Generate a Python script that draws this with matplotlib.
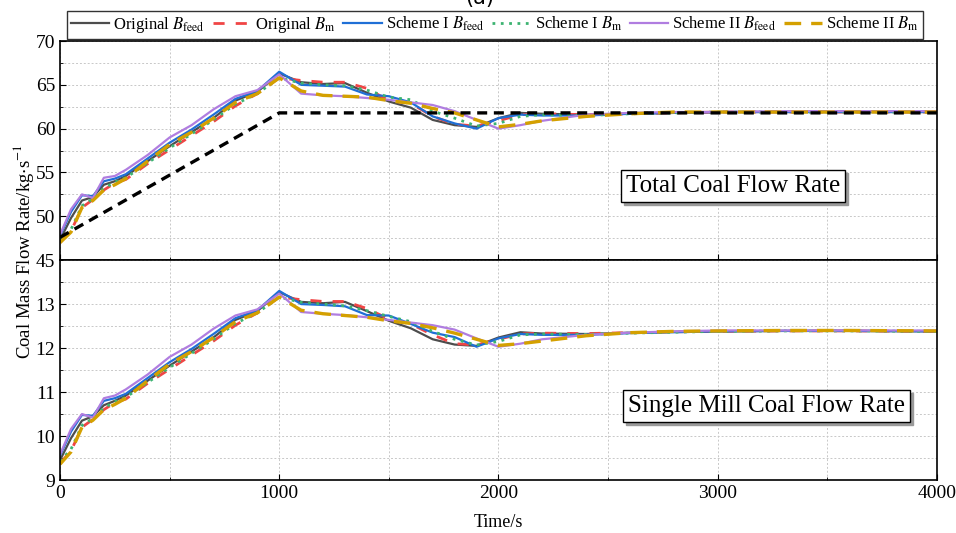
import numpy as np
import matplotlib
matplotlib.use('Agg')
import matplotlib.pyplot as plt
import matplotlib.transforms as mtransforms
from matplotlib.ticker import MultipleLocator

plt.rcParams['font.family'] = ['Liberation Serif', 'DejaVu Serif']
plt.rcParams['mathtext.fontset'] = 'stix'

# time grid (s)
t = [0, 50, 100, 150, 200, 250, 300, 400, 500, 600, 700, 800, 900, 1000,
     1100, 1200, 1300, 1400, 1500, 1600, 1700, 1800, 1900, 2000, 2100, 2200,
     2400, 2600, 2800, 3000, 3300, 3600, 4000]

# total coal flow rate (kg/s)
total_orig_feed = [47.3, 49.8, 51.8, 52.2, 53.6, 54.0, 54.6, 56.3, 58.0, 59.6, 61.2, 63.2, 64.2, 66.3,
                   65.3, 65.1, 65.2, 64.1, 63.1, 62.4, 61.0, 60.4, 60.2, 61.2, 61.8, 61.7,
                   61.6, 61.7, 61.8, 61.9, 61.9, 61.9, 61.9]
total_orig_m = [47.0, 48.3, 51.0, 51.9, 53.0, 53.8, 54.2, 56.0, 57.6, 59.2, 60.8, 62.6, 64.0, 65.8,
                65.5, 65.3, 65.3, 64.6, 63.2, 62.9, 61.4, 60.5, 60.3, 60.9, 61.6, 61.7,
                61.6, 61.7, 61.8, 61.9, 61.9, 61.9, 61.9]
total_s1_feed = [47.8, 50.5, 52.4, 52.3, 54.0, 54.3, 54.8, 56.6, 58.4, 59.9, 61.6, 63.4, 64.3, 66.5,
                 65.0, 64.9, 64.8, 63.9, 63.7, 63.0, 61.4, 60.6, 60.0, 61.2, 61.6, 61.5,
                 61.5, 61.7, 61.8, 61.9, 61.9, 61.9, 61.9]
total_s1_m = [47.2, 48.5, 51.2, 52.0, 53.2, 53.9, 54.4, 56.1, 57.8, 59.4, 61.0, 62.8, 64.0, 65.8,
              65.2, 65.0, 64.9, 64.4, 63.6, 63.3, 62.0, 61.2, 60.3, 60.6, 61.4, 61.6,
              61.5, 61.7, 61.8, 61.9, 61.9, 61.9, 61.9]
total_s2_feed = [47.9, 50.8, 52.5, 52.1, 54.4, 54.6, 55.3, 57.0, 59.0, 60.4, 62.2, 63.7, 64.4, 66.2,
                 64.0, 63.8, 63.7, 63.5, 63.3, 63.0, 62.7, 62.0, 61.0, 60.0, 60.4, 60.9,
                 61.6, 61.8, 61.9, 61.9, 62.0, 62.0, 62.0]
total_s2_m = [47.0, 48.2, 51.0, 51.8, 53.0, 53.6, 54.3, 56.3, 58.2, 59.6, 61.2, 63.0, 64.0, 65.8,
              64.3, 63.8, 63.7, 63.6, 63.2, 62.9, 62.3, 61.8, 61.0, 60.2, 60.5, 60.9,
              61.4, 61.7, 61.9, 61.9, 61.9, 61.9, 61.9]
ref_t = [0, 1000, 4000]
ref_total = [47.6, 61.8, 61.8]

# single mill coal flow rate (kg/s)
mill_orig_feed = [9.45, 9.95, 10.35, 10.45, 10.7, 10.8, 10.92, 11.26, 11.6, 11.92, 12.24, 12.64, 12.84, 13.27,
                  13.05, 13.02, 13.05, 12.84, 12.62, 12.45, 12.2, 12.08, 12.05, 12.24, 12.36, 12.33,
                  12.32, 12.35, 12.37, 12.38, 12.39, 12.39, 12.38]
mill_orig_m = [9.38, 9.66, 10.2, 10.38, 10.6, 10.76, 10.84, 11.2, 11.52, 11.84, 12.16, 12.52, 12.8, 13.16,
               13.1, 13.06, 13.06, 12.9, 12.66, 12.55, 12.3, 12.1, 12.07, 12.2, 12.32, 12.34,
               12.33, 12.35, 12.37, 12.38, 12.39, 12.39, 12.38]
mill_s1_feed = [9.56, 10.1, 10.48, 10.46, 10.8, 10.86, 10.96, 11.32, 11.68, 11.98, 12.32, 12.68, 12.86, 13.3,
                13.0, 12.98, 12.95, 12.75, 12.74, 12.55, 12.35, 12.25, 12.03, 12.22, 12.32, 12.3,
                12.3, 12.34, 12.36, 12.38, 12.39, 12.39, 12.38]
mill_s1_m = [9.42, 9.7, 10.24, 10.4, 10.64, 10.78, 10.88, 11.22, 11.56, 11.88, 12.2, 12.56, 12.8, 13.16,
             13.04, 13.0, 12.96, 12.85, 12.72, 12.6, 12.38, 12.2, 12.07, 12.15, 12.3, 12.32,
             12.31, 12.34, 12.36, 12.38, 12.39, 12.39, 12.38]
mill_s2_feed = [9.58, 10.16, 10.5, 10.42, 10.86, 10.92, 11.06, 11.4, 11.8, 12.08, 12.44, 12.74, 12.88, 13.24,
                12.82, 12.78, 12.75, 12.7, 12.64, 12.58, 12.52, 12.42, 12.22, 12.03, 12.1, 12.2,
                12.3, 12.35, 12.38, 12.4, 12.4, 12.4, 12.4]
mill_s2_m = [9.36, 9.64, 10.2, 10.36, 10.6, 10.72, 10.86, 11.26, 11.64, 11.92, 12.24, 12.6, 12.8, 13.16,
             12.86, 12.78, 12.74, 12.7, 12.62, 12.56, 12.46, 12.34, 12.2, 12.06, 12.1, 12.16,
             12.28, 12.35, 12.38, 12.39, 12.4, 12.4, 12.39]

labels = [r'Original $B_{\rm feed}$', r'Original $B_{\rm m}$', r'Scheme I $B_{\rm feed}$',
          r'Scheme I $B_{\rm m}$', r'Scheme II $B_{\rm feed}$', r'Scheme II $B_{\rm m}$']
colors = ['#4d4d4d', '#f04545', '#1f6fd6', '#3cb371', '#b07de0', '#d4a000']
styles = ['-', (0, (4, 4)), '-', (0, (1, 2)), '-', (0, (5, 3))]
widths = [1.6, 2.0, 1.6, 2.0, 1.6, 2.4]

fig = plt.figure(figsize=(9.56, 5.33), dpi=100)
ax1 = fig.add_axes([0.0628, 0.512, 0.9172, 0.411])
ax2 = fig.add_axes([0.0628, 0.0994, 0.9172, 0.4126], sharex=ax1)

top_series = [total_orig_feed, total_orig_m, total_s1_feed, total_s1_m, total_s2_feed, total_s2_m]
bot_series = [mill_orig_feed, mill_orig_m, mill_s1_feed, mill_s1_m, mill_s2_feed, mill_s2_m]

handles = []
for i in range(6):
    h, = ax1.plot(t, top_series[i], color=colors[i], linestyle=styles[i], linewidth=widths[i], label=labels[i])
    ax2.plot(t, bot_series[i], color=colors[i], linestyle=styles[i], linewidth=widths[i])
    handles.append(h)
ax1.plot(ref_t, ref_total, color='black', linestyle=(0, (3, 2)), linewidth=2.4, zorder=5)

ax1.set_ylim(45, 70)
ax2.set_ylim(9, 14)
ax1.set_xlim(0, 4000)
ax1.yaxis.set_minor_locator(MultipleLocator(2.5))
ax2.yaxis.set_minor_locator(MultipleLocator(0.5))
ax2.xaxis.set_major_locator(MultipleLocator(1000))
ax2.xaxis.set_minor_locator(MultipleLocator(500))
ax2.set_yticks([9, 10, 11, 12, 13])
ax1.set_yticks([45, 50, 55, 60, 65, 70])

for ax in (ax1, ax2):
    ax.grid(True, which='both', color='#c8c8c8', linestyle=(0, (2, 2)), linewidth=0.7)
    ax.tick_params(direction='in', which='both', labelsize=14)
    ax.tick_params(which='major', length=4)
    ax.tick_params(which='minor', length=2)
    for s in ax.spines.values():
        s.set_linewidth(1.2)
ax1.tick_params(axis='x', labelbottom=False)

ax2.set_xlabel('Time/s', fontsize=13, labelpad=9)
fig.text(0.025, 0.529, r'Coal Mass Flow Rate/kg$\cdot$s$^{-1}$', rotation=90,
         ha='center', va='center', fontsize=13.5)

# annotation boxes with shadow
def shadow_box(ax, x, y, s):
    off = mtransforms.ScaledTranslation(3 / 100, -3 / 100, fig.dpi_scale_trans)
    ax.text(x, y, s, fontsize=18, ha='center', va='center', color='none',
            transform=ax.transData + off,
            bbox=dict(boxstyle='square,pad=0.2', fc='#9a9a9a', ec='#9a9a9a'))
    ax.text(x, y, s, fontsize=18, ha='center', va='center',
            bbox=dict(boxstyle='square,pad=0.2', fc='white', ec='black', lw=1))

shadow_box(ax1, 3070, 53.4, 'Total Coal Flow Rate')
shadow_box(ax2, 3225, 10.69, 'Single Mill Coal Flow Rate')

leg = fig.legend(handles=handles, loc='center', ncol=6,
                 bbox_to_anchor=(495 / 956, 1 - 25 / 533),
                 fontsize=12, handlelength=2.3, handletextpad=0.25, columnspacing=0.45,
                 borderaxespad=0, frameon=True, fancybox=False, borderpad=0.25)
leg.get_frame().set_edgecolor('black')
leg.get_frame().set_linewidth(1.0)

fig.text(0.502, 1.003, '(a)', ha='center', va='center', fontsize=15, family='DejaVu Sans')

fig.savefig('out.png', dpi=100)
